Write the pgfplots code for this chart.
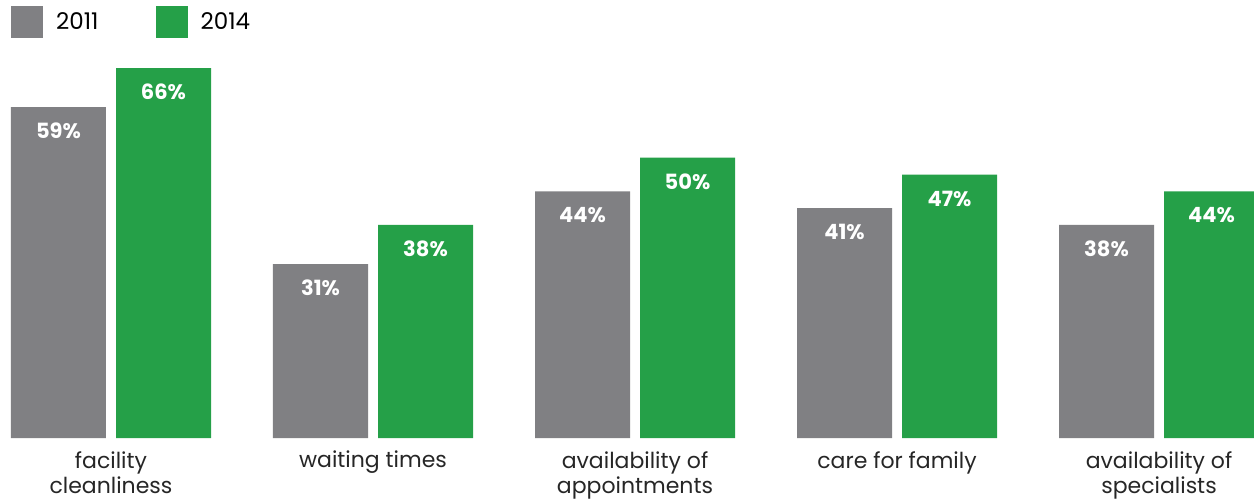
\documentclass[border=0pt]{standalone}
\usepackage{pgfplots}
\pgfplotsset{compat=1.18}
\usepackage{fontspec}
\setmainfont{Poppins}
\definecolor{cgray}{HTML}{808083}
\definecolor{cgreen}{HTML}{25A048}
\begin{document}
\begin{tikzpicture}
\begin{axis}[name=ax, scale only axis, width=1254pt, height=438pt,
  xmin=-0.42366, xmax=4.36260, ymin=0, ymax=78.13,
  enlargelimits=false,
  ybar, bar width=0.3626,
  axis line style={draw=none}, major tick length=0pt, ytick=\empty,
  xtick={0,1,2,3,4},
  xticklabels={facility\\cleanliness, waiting times, availability of\\appointments, care for family, availability of\\specialists},
  xticklabel style={align=center, anchor=north, inner sep=0pt, yshift=-13pt,
    font=\fontsize{22}{25}\selectfont, text=black!85},
  nodes near coords={\pgfmathprintnumber[assume math mode=true]{\pgfplotspointmeta}\%},
  every node near coord/.append style={anchor=center, yshift=-24pt,
    font=\fontsize{21}{24}\selectfont\bfseries, text=white},
  legend style={at={(0,1)}, anchor=north west, xshift=11pt, yshift=-6pt,
    draw=none, fill=none, inner sep=0pt, font=\fontsize{23}{25}\selectfont,
    nodes={inner sep=0pt}},
  legend columns=2,
  /tikz/every odd column/.append style={column sep=13pt},
  /tikz/every even column/.append style={column sep=57pt},
  legend image code/.code={\fill[#1] (0pt,-16pt) rectangle (32pt,16pt);},
  clip=true,
]
\addplot[fill=cgray, draw=none, bar shift=-0.2004] coordinates {(0,59) (1,31) (2,44) (3,41) (4,38)};
\addplot[fill=cgreen, draw=none, bar shift=0.2004] coordinates {(0,66) (1,38) (2,50) (3,47) (4,44)};
\legend{2011, 2014}
\end{axis}
\pgfresetboundingbox
\path ([yshift=-61pt]ax.south west) rectangle (ax.north east);
\end{tikzpicture}
\end{document}
